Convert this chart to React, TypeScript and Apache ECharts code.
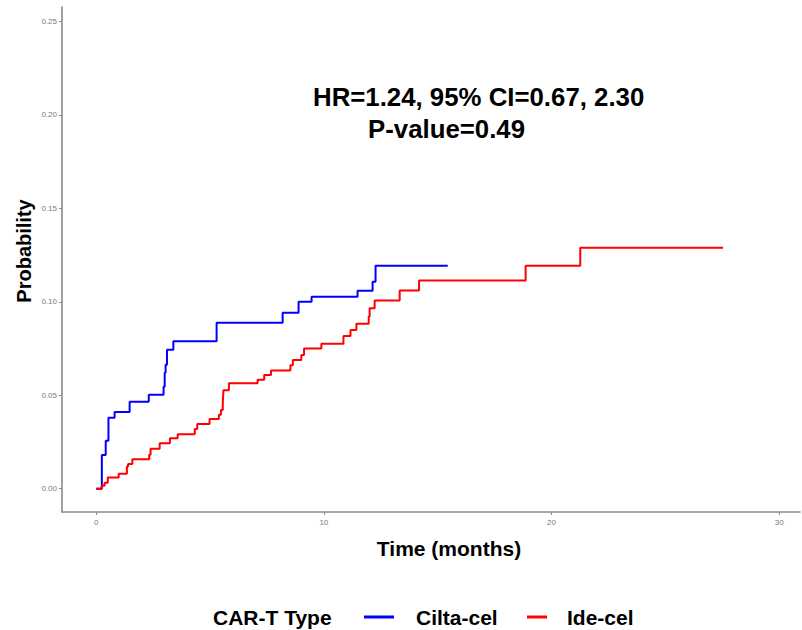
import React, { useEffect, useRef } from "react";
import * as echarts from "echarts";

// Cumulative incidence step curves by CAR-T product (time in months)
const ciltaTimes = [0, 0.25, 0.42, 0.54, 0.81, 1.47, 2.31, 2.96, 3.01, 3.05, 3.11, 3.39, 5.29, 8.19, 8.89, 9.46, 11.48, 12.14, 12.27, 15.44];
const ciltaProb = [0, 0.018, 0.0257, 0.038, 0.041, 0.0465, 0.0503, 0.0545, 0.062, 0.0663, 0.0743, 0.0789, 0.0888, 0.0941, 0.1, 0.1027, 0.1059, 0.1107, 0.1193, 0.1193];

const ideTimes = [0, 0.24, 0.37, 0.51, 0.99, 1.35, 1.4, 1.59, 2.33, 2.39, 2.79, 3.24, 3.58, 4.33, 4.44, 4.98, 5.39, 5.48, 5.56, 5.59, 5.83, 7.09, 7.38, 7.68, 8.53, 8.64, 9.01, 9.13, 9.89, 10.86, 11.17, 11.43, 11.97, 12.01, 12.23, 13.33, 14.18, 18.86, 21.26, 27.53];
const ideProb = [0, 0.0015, 0.0032, 0.006, 0.008, 0.0118, 0.0132, 0.0157, 0.0182, 0.0214, 0.0243, 0.027, 0.0291, 0.0319, 0.0346, 0.0373, 0.0396, 0.0421, 0.046, 0.0526, 0.0564, 0.0583, 0.0608, 0.0633, 0.0661, 0.0688, 0.0715, 0.075, 0.0775, 0.0817, 0.0849, 0.0882, 0.0922, 0.0966, 0.1007, 0.106, 0.1114, 0.1193, 0.129, 0.129];

const xTicks = [0, 10, 20, 30];
const yTicks = [0, 0.05, 0.1, 0.15, 0.2, 0.25];

const seriesNames = ["Cilta-cel", "Ide-cel"];
const seriesColors = ["#0000ff", "#ff0000"];
const legendTitle = "CAR-T Type";
const hrText = "HR=1.24, 95% CI=0.67, 2.30";
const pText = "P-value=0.49";

const FONT = '"Liberation Sans", Arial, Helvetica, sans-serif';
const AXIS_GRAY = "#8a8a8a";

export default function App() {
  const ref = useRef<HTMLDivElement>(null);

  useEffect(() => {
    if (!ref.current) return;
    const chart = echarts.init(ref.current, null, { renderer: "svg" });

    const pairs = (t: number[], p: number[]) => t.map((v, i) => [v, p[i]]);

    chart.setOption({
      animation: false,
      backgroundColor: "#ffffff",
      textStyle: { fontFamily: FONT },
      grid: { left: 62, top: 7, right: 2, height: 505, containLabel: false },
      xAxis: {
        type: "value",
        min: -1.5,
        max: 30.91,
        axisLine: { show: true, onZero: false, lineStyle: { color: AXIS_GRAY, width: 1.6 } },
        axisTick: { show: true, customValues: xTicks, length: 3, lineStyle: { color: AXIS_GRAY } },
        axisLabel: {
          customValues: xTicks,
          color: "#7a7a7a",
          fontSize: 8,
          margin: 6,
          fontFamily: FONT,
          formatter: (v: number) => String(v),
        },
        splitLine: { show: false },
      },
      yAxis: {
        type: "value",
        min: -0.0125,
        max: 0.2578,
        axisLine: { show: true, onZero: false, lineStyle: { color: AXIS_GRAY, width: 1.6 } },
        axisTick: { show: true, customValues: yTicks, length: 3, lineStyle: { color: AXIS_GRAY } },
        axisLabel: {
          customValues: yTicks,
          color: "#7a7a7a",
          fontSize: 8,
          margin: 5,
          fontFamily: FONT,
          formatter: (v: number) => v.toFixed(2),
        },
        splitLine: { show: false },
      },
      series: [
        {
          name: seriesNames[0],
          type: "line",
          step: "end",
          showSymbol: false,
          data: pairs(ciltaTimes, ciltaProb),
          lineStyle: { color: seriesColors[0], width: 2 },
          itemStyle: { color: seriesColors[0] },
        },
        {
          name: seriesNames[1],
          type: "line",
          step: "end",
          showSymbol: false,
          data: pairs(ideTimes, ideProb),
          lineStyle: { color: seriesColors[1], width: 2 },
          itemStyle: { color: seriesColors[1] },
        },
      ],
      graphic: [
        {
          type: "text",
          left: 313,
          top: 84,
          style: { text: hrText, font: `bold 25.8px ${FONT}`, fill: "#000" },
        },
        {
          type: "text",
          left: 368,
          top: 116,
          style: { text: pText, font: `bold 25.8px ${FONT}`, fill: "#000" },
        },
        {
          type: "text",
          x: 449,
          y: 548,
          style: { text: "Time (months)", font: `bold 21px ${FONT}`, fill: "#000", align: "center", verticalAlign: "middle" },
        },
        {
          type: "text",
          x: 24,
          y: 251,
          rotation: Math.PI / 2,
          style: { text: "Probability", font: `bold 20px ${FONT}`, fill: "#000", align: "center", verticalAlign: "middle" },
        },
        {
          type: "text",
          x: 213,
          y: 617,
          style: { text: legendTitle, font: `bold 21px ${FONT}`, fill: "#000", verticalAlign: "middle" },
        },
        {
          type: "line",
          shape: { x1: 364, y1: 617, x2: 394, y2: 617 },
          style: { stroke: seriesColors[0], lineWidth: 3 },
        },
        {
          type: "text",
          x: 416,
          y: 617,
          style: { text: seriesNames[0], font: `bold 21px ${FONT}`, fill: "#000", verticalAlign: "middle" },
        },
        {
          type: "line",
          shape: { x1: 527, y1: 617, x2: 547, y2: 617 },
          style: { stroke: seriesColors[1], lineWidth: 3 },
        },
        {
          type: "text",
          x: 567,
          y: 617,
          style: { text: seriesNames[1], font: `bold 21px ${FONT}`, fill: "#000", verticalAlign: "middle" },
        },
      ],
    });

    return () => chart.dispose();
  }, []);

  return (
    <div
      ref={ref}
      style={{ position: "fixed", left: 0, top: 0, width: 802, height: 630, background: "#fff" }}
    />
  );
}
